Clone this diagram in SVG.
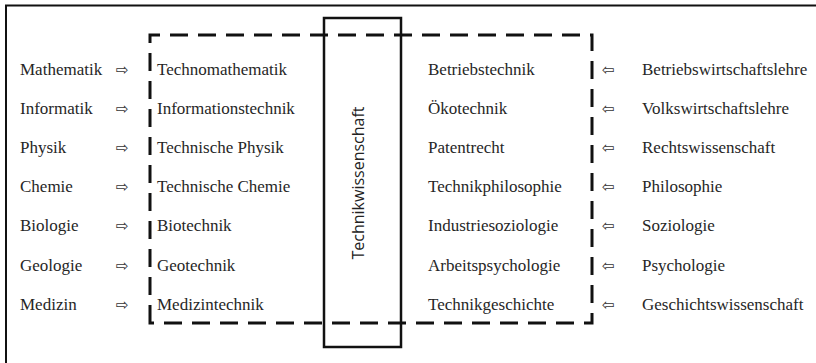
<svg xmlns="http://www.w3.org/2000/svg" width="816" height="363" viewBox="0 0 816 363">
<style>
.t{font-family:"Liberation Serif","Times New Roman",serif;font-size:17px;fill:#262626}
.a{font-family:"DejaVu Sans",sans-serif;font-size:15px;fill:#333}
.d{fill:none;stroke:#111;stroke-width:3;stroke-dasharray:18 10}
</style>
<rect width="816" height="363" fill="#fff"/>
<g id="frame" fill="none" stroke="#111" stroke-width="2">
<path d="M6 363 V5.5 H816"/>
</g>
<g id="connectors">
<path class="d" d="M150 323 V35 H592 V323 Z"/>
</g>
<g id="center">
<rect x="324" y="18" width="77" height="329" fill="none" stroke="#111" stroke-width="2.5"/>
<text x="0" y="0" transform="translate(364 183) rotate(-90)" text-anchor="middle" font-family="'Open Sans','Liberation Sans',sans-serif" font-size="16" fill="#222">Technikwissenschaft</text>
</g>
<g id="left">
<text class="t" x="20" y="75">Mathematik</text>
<text class="t" x="20" y="114">Informatik</text>
<text class="t" x="20" y="153">Physik</text>
<text class="t" x="20" y="192">Chemie</text>
<text class="t" x="20" y="231">Biologie</text>
<text class="t" x="20" y="271">Geologie</text>
<text class="t" x="20" y="310">Medizin</text>
</g>
<g id="leftarrows">
<text class="a" x="116" y="75">⇨</text>
<text class="a" x="116" y="114">⇨</text>
<text class="a" x="116" y="153">⇨</text>
<text class="a" x="116" y="192">⇨</text>
<text class="a" x="116" y="231">⇨</text>
<text class="a" x="116" y="271">⇨</text>
<text class="a" x="116" y="310">⇨</text>
</g>
<g id="midleft">
<text class="t" x="157" y="75">Technomathematik</text>
<text class="t" x="157" y="114">Informationstechnik</text>
<text class="t" x="157" y="153">Technische Physik</text>
<text class="t" x="157" y="192">Technische Chemie</text>
<text class="t" x="157" y="231">Biotechnik</text>
<text class="t" x="157" y="271">Geotechnik</text>
<text class="t" x="157" y="310">Medizintechnik</text>
</g>
<g id="midright">
<text class="t" x="428" y="75">Betriebstechnik</text>
<text class="t" x="428" y="114">Ökotechnik</text>
<text class="t" x="428" y="153">Patentrecht</text>
<text class="t" x="428" y="192">Technikphilosophie</text>
<text class="t" x="428" y="231">Industriesoziologie</text>
<text class="t" x="428" y="271">Arbeitspsychologie</text>
<text class="t" x="428" y="310">Technikgeschichte</text>
</g>
<g id="rightarrows">
<text class="a" x="602" y="75">⇦</text>
<text class="a" x="602" y="114">⇦</text>
<text class="a" x="602" y="153">⇦</text>
<text class="a" x="602" y="192">⇦</text>
<text class="a" x="602" y="231">⇦</text>
<text class="a" x="602" y="271">⇦</text>
<text class="a" x="602" y="310">⇦</text>
</g>
<g id="right">
<text class="t" x="642" y="75">Betriebswirtschaftslehre</text>
<text class="t" x="642" y="114">Volkswirtschaftslehre</text>
<text class="t" x="642" y="153">Rechtswissenschaft</text>
<text class="t" x="642" y="192">Philosophie</text>
<text class="t" x="642" y="231">Soziologie</text>
<text class="t" x="642" y="271">Psychologie</text>
<text class="t" x="642" y="310">Geschichtswissenschaft</text>
</g>
</svg>
